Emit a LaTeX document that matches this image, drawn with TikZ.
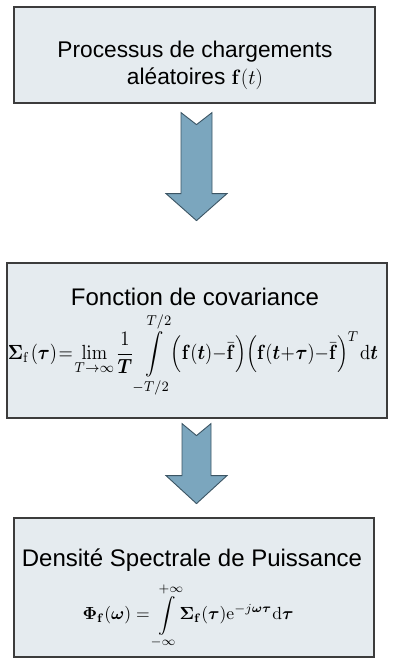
\documentclass[tikz,border=0pt]{standalone}
\usepackage{amsmath,amssymb}
\usepackage[no-math]{fontspec}
\setmainfont{Liberation Sans}
\usepackage{graphicx}
\usetikzlibrary{positioning,calc}

\definecolor{boxfill}{RGB}{229,235,239}
\definecolor{boxline}{RGB}{60,60,60}
\definecolor{arrowfill}{RGB}{123,166,190}
\definecolor{arrowline}{RGB}{60,85,100}

\begin{document}
\begin{tikzpicture}[
    x=1pt, y=-1pt,
    box/.style={rectangle, draw=boxline, fill=boxfill, line width=1.2pt, inner sep=0pt},
    title/.style={font=\fontsize{24}{28}\selectfont, align=center, inner sep=0pt},
    formula/.style={inner sep=0pt},
    tight/.style={execute at begin node={\thickmuskip=1.5mu\medmuskip=0.5mu\thinmuskip=1mu}},
    blockarrow/.style={draw=arrowline, fill=arrowfill, line width=0.9pt, line join=miter}
]
\useasboundingbox (0,0) rectangle (393,663);

% Boxes
\node[box, minimum width=361pt, minimum height=96pt] (load) at (194.5,55) {};
\node[box, minimum width=380pt, minimum height=155pt] (cov) at (197,340.5) {};
\node[box, minimum width=360pt, minimum height=139pt] (dsp) at (194,587.5) {};

% Texts
\node[title, font=\fontsize{22.7}{27}\selectfont] (loadtxt) at (195,65.5) {Processus de chargements\\al\'eatoires $\mathbf{f}(t)$};
\node[title] (covtxt) at (195,297) {Fonction de covariance};
\node[title] (dsptxt) at (192,560) {Densit\'e Spectrale de Puissance};

% Formulas
\node[formula, tight] (covfor) at (193,355) {\resizebox*{370pt}{84pt}{$\displaystyle
  \boldsymbol{\Sigma}_{\mathrm{f}}\,(\boldsymbol{\tau})=\lim_{T\to\infty}\frac{1}{\boldsymbol{T}}\,
  \int\limits_{-T/2}^{T/2}\!\!\Bigl(\mathbf{f}(\boldsymbol{t}){-}\bar{\mathbf{f}}\Bigr)
  \Bigl(\mathbf{f}(\boldsymbol{t}+\boldsymbol{\tau}){-}\bar{\mathbf{f}}\Bigr)^{\!T}\,\mathrm{d}\boldsymbol{t}$}};
\node[formula] (dspfor) at (188,616) {\resizebox{211pt}{!}{$\displaystyle
  \boldsymbol{\Phi}_{\mathbf{f}}(\boldsymbol{\omega})=\int\limits_{-\infty}^{+\infty}\!
  \boldsymbol{\Sigma}_{\mathbf{f}}(\boldsymbol{\tau})\mathrm{e}^{-j\boldsymbol{\omega}\boldsymbol{\tau}}\mathrm{d}\boldsymbol{\tau}$}};

% Arrows
\coordinate (arr1) at ($(load.south)+(2,9)$);
\coordinate (arr2) at ($(cov.south)+(-0.5,5)$);
\draw[blockarrow] (arr1) ++(-15.5,0) -- ++(15.5,12) -- ++(15.5,-12) -- ++(0,81)
  -- ++(15,0) -- ++(-30.5,27) -- ++(-30.5,-27) -- ++(15,0) -- cycle;
\draw[blockarrow] (arr2) ++(-14.5,0) -- ++(14.5,12) -- ++(14.5,-12) -- ++(0,52)
  -- ++(16,0) -- ++(-30.5,28) -- ++(-30.5,-28) -- ++(16,0) -- cycle;

\end{tikzpicture}
\end{document}
